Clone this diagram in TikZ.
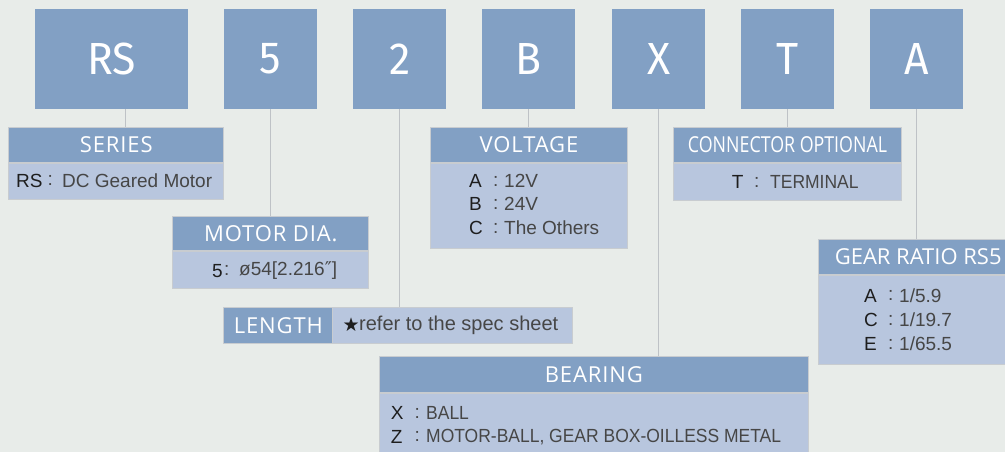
\documentclass[tikz,border=0pt]{standalone}
\usepackage{fontspec}
\setmainfont{Liberation Sans}
\newfontfamily\topfont[FakeStretch=0.95]{Fira Sans}
\newfontfamily\hdrfont[LetterSpace=4]{Open Sans}
\newfontfamily\hdrplain{Open Sans}
\newfontfamily\hdrtight[FakeStretch=0.81]{Open Sans}
\newfontfamily\capsfont[FakeStretch=0.92]{Liberation Sans}
\newfontfamily\symfont{DejaVu Sans}
\definecolor{bgc}{RGB}{232,236,233}
\definecolor{boxblue}{RGB}{130,160,196}
\definecolor{bodyblue}{RGB}{184,198,222}
\definecolor{edge}{RGB}{200,204,208}
\definecolor{linec}{RGB}{190,194,198}
\definecolor{keyc}{RGB}{30,30,30}
\definecolor{valc}{RGB}{70,70,70}
\begin{document}
\begin{tikzpicture}[x=1pt,y=-1pt,
  top/.style={fill=boxblue, text=white, font=\topfont\fontsize{45}{45}\selectfont, inner sep=0pt, anchor=north west, minimum height=99.5pt},
  hdr/.style={fill=boxblue, draw=edge, line width=1pt, text=white, font=\hdrfont\fontsize{22}{22}\selectfont, inner sep=0pt, anchor=north west},
  bodybox/.style={fill=bodyblue, draw=edge, line width=1pt, inner sep=0pt, anchor=north west},
  key/.style={text=keyc, font=\fontsize{19}{19}\selectfont, inner sep=0pt, anchor=west},
  val/.style={text=valc, font=\fontsize{19}{19}\selectfont, inner sep=0pt, anchor=west},
  capsval/.style={val, font=\capsfont\fontsize{19}{19}\selectfont},
  conn/.style={draw=linec, line width=1pt}]
\useasboundingbox (0,0) rectangle (1005,452);
\fill[bgc] (0,0) rectangle (1005,452);
\clip (0,0) rectangle (1005,452);

% top code boxes
\node[top, minimum width=153pt] (rs) at (35,9) {RS};
\node[top, minimum width=92.7pt] (five) at (224,9) {5};
\node[top, minimum width=93pt] (two) at (353,9) {2};
\node[top, minimum width=93pt] (bb) at (482,9) {B};
\node[top, minimum width=92.7pt] (xx) at (612,9) {X};
\node[top, minimum width=93pt] (tt) at (741,9) {T};
\node[top, minimum width=93pt] (aa) at (870,9) {A};

% label boxes
\node[hdr, minimum width=215pt, minimum height=35.3pt] (series) at (8.3,126.7) {SERIES};
\node[bodybox, minimum width=215pt, minimum height=35.7pt] (seriesb) at (series.south west) {};

\node[hdr, minimum width=196pt, minimum height=34.3pt] (motor) at (172.3,215.7) {MOTOR DIA.};
\node[bodybox, minimum width=196pt, minimum height=36.7pt] (motorb) at (motor.south west) {};

\node[hdr, minimum width=196.4pt, minimum height=35.3pt] (volt) at (430.3,126.7) {VOLTAGE};
\node[bodybox, minimum width=196.4pt, minimum height=85pt] (voltb) at (volt.south west) {};

\node[hdr, font=\hdrtight\fontsize{22}{22}\selectfont, minimum width=227.4pt, minimum height=35.3pt] (conn) at (673.3,126.7) {CONNECTOR OPTIONAL};
\node[bodybox, minimum width=227.4pt, minimum height=36.7pt] (connb) at (conn.south west) {};

\node[hdr, font=\hdrplain\fontsize{22}{22}\selectfont, minimum width=200pt, minimum height=35pt] (gear) at (817.7,239) {GEAR RATIO RS5};
\node[bodybox, minimum width=200pt, minimum height=88.7pt] (gearb) at (gear.south west) {};

\node[bodybox, minimum width=239.4pt, minimum height=36.6pt] (lengthb) at (332.3,306.7) {};
\node[hdr, minimum width=109pt, minimum height=36.6pt] (length) at (223.3,306.7) {LENGTH};

\node[hdr, minimum width=428.7pt, minimum height=36pt] (bear) at (379,355.7) {BEARING};
\node[bodybox, minimum width=428.7pt, minimum height=68.3pt] (bearb) at (bear.south west) {};

% connectors
\coordinate (rsx) at (125.7,0);
\draw[conn] (rs.south -| rsx) -- (series.north -| rsx);
\draw[conn] (five.south) -- (motor.north -| five.south);
\draw[conn] (two.south) -- (lengthb.north -| two.south);
\draw[conn] (bb.south) -- (volt.north -| bb.south);
\draw[conn] (xx.south) -- (bear.north -| xx.south);
\draw[conn] (tt.south) -- (conn.north -| tt.south);
\draw[conn] (aa.south) -- (gear.north -| aa.south);

% body texts
\node[key] (k1) at (16,180.7) {RS};
\node[val] (c1) at (47.5,180.7) {:};
\node[val] (v1) at (62,180.7) {DC Geared Motor};

\node[key] (k2) at (212,270.7) {5};
\node[val] (c2) at (224,270.7) {:};
\node[val] (v2) at (239,270.7) {ø54[2.216{\symfont ″}]};

\node[key] (k3a) at (469,181) {A};
\node[val] (c3a) at (493,181) {:};
\node[val] (v3a) at (504,181) {12V};
\node[key] (k3b) at (469,204.3) {B};
\node[val] (c3b) at (493,204.3) {:};
\node[val] (v3b) at (504,204.3) {24V};
\node[key] (k3c) at (469,228) {C};
\node[val] (c3c) at (493,228) {:};
\node[val] (v3c) at (504,228) {The Others};

\node[key] (k4) at (731.7,182.3) {T};
\node[val] (c4) at (754,182.3) {:};
\node[capsval] (v4) at (770,182.3) {TERMINAL};

\node[key] (k5a) at (864,295.7) {A};
\node[val] (c5a) at (888,295.7) {:};
\node[val] (v5a) at (899,295.7) {1/5.9};
\node[key] (k5b) at (864,320) {C};
\node[val] (c5b) at (888,320) {:};
\node[val] (v5b) at (899,320) {1/19.7};
\node[key] (k5c) at (864,344) {E};
\node[val] (c5c) at (888,344) {:};
\node[val] (v5c) at (899,344) {1/65.5};

\node[key] (k6a) at (390.7,413.3) {X};
\node[val] (c6a) at (414.5,413.3) {:};
\node[capsval] (v6a) at (426,413.3) {BALL};
\node[key] (k6b) at (390.7,436.7) {Z};
\node[val] (c6b) at (414.5,436.7) {:};
\node[capsval] (v6b) at (426,436.7) {MOTOR-BALL, GEAR BOX-OILLESS METAL};

\node[key, font=\symfont\fontsize{19}{19}\selectfont] (star) at (342.5,325) {★};
\node[val, font=\fontsize{20}{20}\selectfont] (v7) at (359,325) {refer to the spec sheet};
\end{tikzpicture}
\end{document}
